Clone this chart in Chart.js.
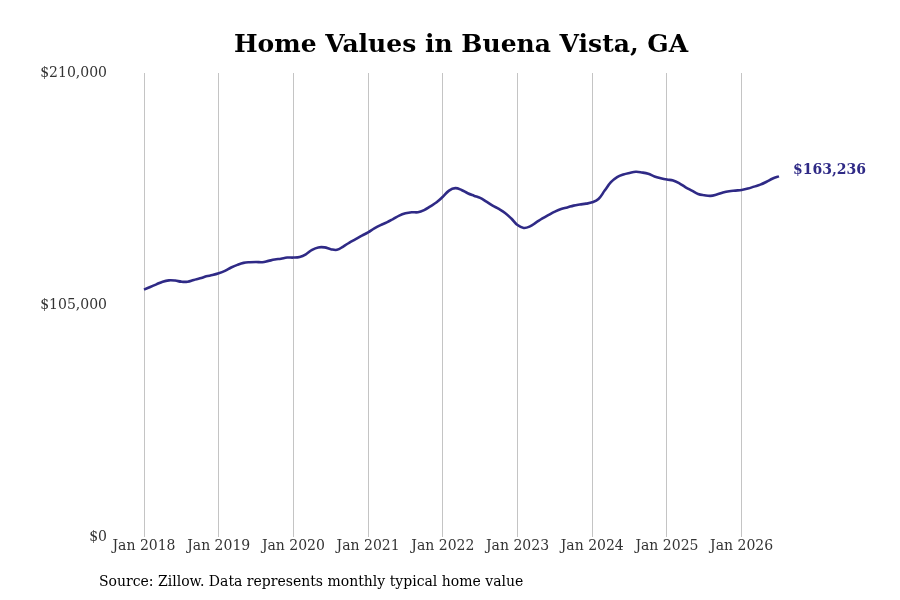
<!DOCTYPE html>
<html>
<head>
<meta charset="utf-8">
<script src="https://cdn.jsdelivr.net/npm/chart.js@4.4.1/dist/chart.umd.min.js"></script>
<style>
  body { margin: 0; background: #fff; }
  #wrap { position: relative; width: 900px; height: 600px; }
  #title {
    position: absolute; left: 11px; top: 29px; width: 900px; text-align: center;
    font: bold 25px "DejaVu Serif", serif; color: #000; line-height: 29px;
  }
  #source {
    position: absolute; left: 99px; top: 573px;
    font: 14px "DejaVu Serif", serif; color: #000;
  }
</style>
</head>
<body>
<div id="wrap">
  <canvas id="myCanvas" width="900" height="600"></canvas>
  <div id="title">Home Values in Buena Vista, GA</div>
  <div id="source">Source: Zillow. Data represents monthly typical home value</div>
</div>
<script>
// monthly typical home value, Jan 2018 .. Jul 2026
const startYear = 2018;
const monthNames = ['Jan', 'Feb', 'Mar', 'Apr', 'May', 'Jun', 'Jul', 'Aug', 'Sep', 'Oct', 'Nov', 'Dec'];
const homeValues = [
    112000, 113200, 114400, 115600, 116200, 116100, 115600, 115600, 116400, 117100, 118000, 118600,
    119400, 120500, 122000, 123200, 124100, 124400, 124500, 124400, 125000, 125600, 126000, 126500,
    126500, 126800, 128000, 130000, 131100, 131100, 130300, 130000, 131500, 133300, 134800, 136400,
    137900, 139700, 141200, 142400, 143900, 145500, 146500, 147000, 147000, 148000, 149700, 151500,
    154000, 156800, 157900, 157100, 155600, 154500, 153500, 151800, 150000, 148500, 146700, 144200,
    141200, 139900, 140600, 142400, 144200, 145800, 147300, 148500, 149200, 150000, 150500, 150900,
    151500, 153000, 156800, 160600, 162900, 164100, 164800, 165300, 165000, 164400, 163200, 162400,
    161800, 161400, 160100, 158300, 156800, 155300, 154700, 154400, 155000, 155900, 156500, 156800,
    157100, 157700, 158600, 159500, 160800, 162300, 163236
];
const yTicks = [0, 105000, 210000];

const labels = [];
for (let i = 0; i < homeValues.length; i++) {
    labels.push(monthNames[i % 12] + ' ' + (startYear + Math.floor(i / 12)));
}

const lineColor = '#2f2a86';
const serif = '"DejaVu Serif", serif';

// draws the last value next to the end of the line
const endLabel = {
    id: 'endLabel',
    afterDatasetsDraw(chart) {
        const pt = chart.getDatasetMeta(0).data[homeValues.length - 1];
        const ctx = chart.ctx;
        ctx.save();
        ctx.font = 'bold 14px ' + serif;
        ctx.fillStyle = lineColor;
        ctx.textBaseline = 'middle';
        ctx.textAlign = 'left';
        ctx.fillText('$' + homeValues[homeValues.length - 1].toLocaleString('en-US'), pt.x + 14, pt.y - 6);
        ctx.restore();
    }
};

const ctx = document.getElementById('myCanvas').getContext('2d');
const chart = new Chart(ctx, {
    type: 'line',
    data: {
        labels: labels,
        datasets: [{
            data: homeValues,
            borderColor: lineColor,
            borderWidth: 2.6,
            pointRadius: 0,
            tension: 0.4,
            fill: false
        }]
    },
    options: {
        responsive: false,
        animation: false,
        layout: { padding: { left: 5, right: 121, bottom: 44, top: 73 } },
        plugins: {
            legend: { display: false },
            tooltip: { enabled: false },
            title: { display: false }
        },
        scales: {
            x: {
                offset: false,
                border: { display: false },
                grid: { color: '#c4c4c4', drawTicks: false },
                ticks: {
                    autoSkip: false,
                    maxRotation: 0,
                    padding: 1,
                    color: '#333',
                    font: { family: serif, size: 14 },
                    callback: function (v, i) {
                        return i % 12 === 0 ? labels[i] : null;
                    }
                }
            },
            y: {
                min: yTicks[0],
                max: yTicks[yTicks.length - 1],
                border: { display: false },
                grid: { display: false },
                afterBuildTicks: function (axis) {
                    axis.ticks = yTicks.map(v => ({ value: v }));
                },
                afterFit: function (axis) {
                    axis.width = 139;
                },
                ticks: {
                    padding: 29,
                    color: '#333',
                    font: { family: serif, size: 14 },
                    callback: v => '$' + v.toLocaleString('en-US')
                }
            }
        }
    },
    plugins: [endLabel]
});
</script>
</body>
</html>
